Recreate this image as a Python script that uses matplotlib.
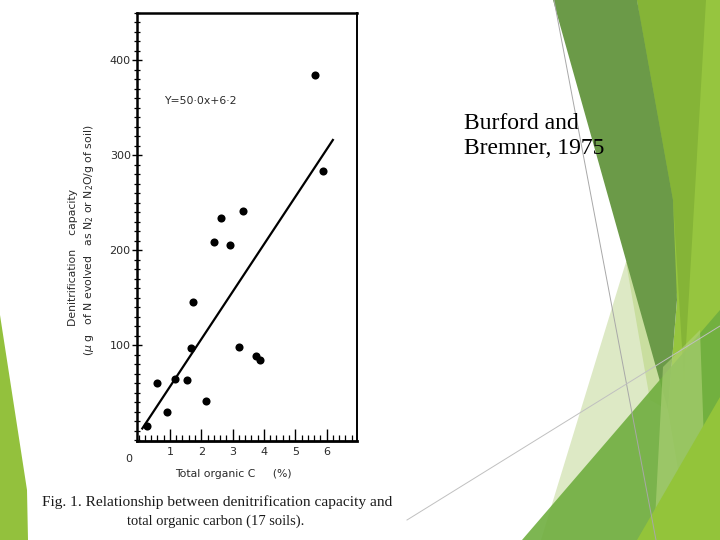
import matplotlib
matplotlib.use("Agg")
import matplotlib.pyplot as plt
from matplotlib.patches import Polygon
from matplotlib.ticker import MultipleLocator
import numpy as np

# ---- data ----
organic_c = [0.27, 0.60, 0.91, 1.17, 1.54, 1.68, 1.74, 2.16, 2.41, 2.62,
             2.93, 3.19, 3.33, 3.76, 3.87, 5.62, 5.89]
denit_cap = [15, 60, 30, 64, 63, 97, 145, 41, 209, 234,
             206, 98, 241, 89, 84, 385, 283]
slope = 50.0
intercept = 6.2
fit_x = [0.12, 6.2]
x_ticks = [1, 2, 3, 4, 5, 6]
y_ticks = [100, 200, 300, 400]

W, H = 720, 540
fig = plt.figure(figsize=(7.2, 5.4), dpi=100)
fig.patch.set_facecolor("white")

# ---- slide background decorations (pixel coordinates) ----
bg = fig.add_axes([0, 0, 1, 1], zorder=0)
bg.set_xlim(0, W)
bg.set_ylim(H, 0)
bg.axis("off")

def poly(pts, color, alpha=1.0, z=1):
    bg.add_patch(Polygon(pts, closed=True, facecolor=color, edgecolor="none",
                         alpha=alpha, zorder=z))

# left green sliver
poly([(0, 315), (27, 490), (28, 540), (0, 540)], "#93c13d", z=1)
# right light green region
poly([(637, 0), (720, 0), (720, 540), (600, 540), (668, 410), (677, 300)], "#96c53f", z=1)
# olive band top
poly([(637, 0), (706, 0), (684, 380), (673, 200)], "#85b437", z=2)
# pale band
poly([(626, 262), (541, 540), (690, 540), (668, 410)], "#dde9c5", z=2)
# slightly deeper pale strip next to dark band
poly([(626, 262), (640, 250), (668, 410), (650, 400)], "#c9de9f", z=2)
# dark band
poly([(553, 0), (637, 0), (673, 200), (677, 300), (668, 410)], "#6b9a48", z=3)
# medium green triangle (bottom)
poly([(522, 540), (720, 310), (720, 540)], "#6fae3f", alpha=0.9, z=4)
# light band bottom right
poly([(663, 367), (700, 330), (705, 470), (655, 520)], "#b2d47a", alpha=0.6, z=5)
# bright green bottom-right
poly([(637, 540), (720, 397), (720, 540)], "#93c43a", z=6)
# thin grey lines
bg.plot([554, 656], [0, 540], color="#a8a8a8", lw=0.7, zorder=7)
bg.plot([407, 720], [520, 326], color="#c0c0c0", lw=0.7, zorder=7)

# slide text
bg.text(464, 136, "Burford and\nBremner, 1975", fontsize=17,
        family="Liberation Serif", color="black", va="center", ha="left",
        linespacing=1.22, zorder=10)

# caption of scanned figure
bg.text(42, 502, "Fig. 1. Relationship between denitrification capacity and",
        fontsize=11.1, family="Liberation Serif", color="#1a1a1a",
        va="center", ha="left", zorder=10)
bg.text(216, 521, "total organic carbon (17 soils).",
        fontsize=10.5, family="Liberation Serif", color="#1a1a1a",
        va="center", ha="center", zorder=10)

# axis labels of scanned figure
lab_col = "#2a2a2a"
bg.text(73, 258, "Denitrification    capacity", rotation=90, fontsize=7.8,
        color=lab_col, ha="center", va="center", zorder=10)
bg.text(89, 240, r"($\mu$ g   of N evolved   as N$_2$ or N$_2$O/g of soil)",
        rotation=90, fontsize=7.8, color=lab_col, ha="center", va="center",
        zorder=10)
bg.text(233, 474, "Total organic C     (%)", fontsize=7.8, color=lab_col,
        ha="center", va="center", zorder=10)

# ---- the chart ----
left, right, top, bottom = 137, 357, 13, 441
ax = fig.add_axes([left / W, 1 - bottom / H, (right - left) / W, (bottom - top) / H],
                  zorder=5)
ax.set_facecolor("none")
ax.set_xlim(-0.05, 6.97)
ax.set_ylim(-1, 450)

ax.scatter(organic_c, denit_cap, s=34, color="black", zorder=3, linewidths=0)
fx = np.array(fit_x)
ax.plot(fx, slope * fx + intercept, color="black", lw=1.6, zorder=2)

ax.text(0.125, 0.794, "Y=50·0x+6·2", transform=ax.transAxes, fontsize=7.8,
        color=lab_col, ha="left", va="center")

for side in ["left", "top", "right", "bottom"]:
    ax.spines[side].set_color("black")
ax.spines["left"].set_linewidth(1.8)
ax.spines["bottom"].set_linewidth(2.0)
ax.spines["top"].set_linewidth(1.8)
ax.spines["right"].set_linewidth(1.4)

ax.set_xticks(x_ticks)
ax.set_xticklabels([str(t) for t in x_ticks])
ax.xaxis.set_minor_locator(MultipleLocator(0.2))
ax.set_yticks(y_ticks)
ax.set_yticklabels([str(t) for t in y_ticks])
ax.yaxis.set_minor_locator(MultipleLocator(10))

ax.tick_params(axis="x", which="major", direction="in", length=9, width=1.0,
               labelsize=8, labelcolor=lab_col, pad=4)
ax.tick_params(axis="x", which="minor", direction="in", length=4, width=0.9)
ax.tick_params(axis="y", which="major", direction="inout", length=7, width=1.0,
               labelsize=8, labelcolor=lab_col, pad=1)
ax.tick_params(axis="y", which="minor", direction="inout", length=4, width=0.9)
ax.tick_params(top=False, right=False)

ax.text(-0.3, -0.03, "0", transform=ax.get_xaxis_transform(), fontsize=8,
        color=lab_col, ha="center", va="top")

fig.savefig("out.png", dpi=100, facecolor="white")
